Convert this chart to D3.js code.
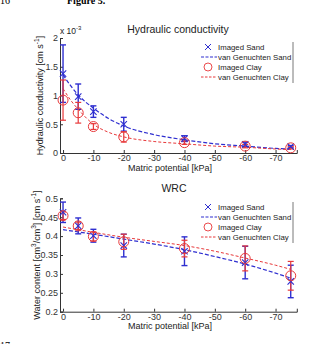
<!DOCTYPE html>
<html>
<head>
<meta charset="utf-8">
<script src="https://cdn.jsdelivr.net/npm/d3@7"></script>
<style>
  body { margin: 0; background: #fff; }
  svg { display: block; font-family: "Liberation Sans", Arial, sans-serif; }
</style>
</head>
<body>
<div id="chart"></div>
<script>
// measured points
const potentials = [0, -5, -10, -20, -40, -60, -75];

const sandK = [1.38, 0.98, 0.72, 0.50, 0.25, 0.15, 0.11];
const sandKErr = [0.50, 0.22, 0.10, 0.12, 0.05, 0.04, 0.02];
const clayK = [0.92, 0.70, 0.46, 0.28, 0.18, 0.12, 0.09];
const clayKErr = [0.35, 0.18, 0.05, 0.09, 0.03, 0.03, 0.02];

const sandW = [0.463, 0.427, 0.401, 0.375, 0.360, 0.330, 0.280];
const sandWErr = [0.027, 0.021, 0.017, 0.030, 0.038, 0.043, 0.043];
const clayW = [0.454, 0.427, 0.399, 0.385, 0.367, 0.341, 0.295];
const clayWErr = [0.010, 0.010, 0.012, 0.020, 0.022, 0.033, 0.038];

// van Genuchten fits
const fitPotK = [0, -2.5, -5, -10, -15, -20, -30, -40, -50, -60, -70, -75];
const fitSandK = [1.36, 1.17, 1.01, 0.78, 0.60, 0.47, 0.32, 0.23, 0.16, 0.12, 0.08, 0.07];
const fitClayK = [1.12, 0.92, 0.76, 0.50, 0.36, 0.28, 0.20, 0.16, 0.12, 0.10, 0.07, 0.06];

const fitPotW = [0, -10, -20, -30, -40, -50, -60, -70, -75];
const fitSandW = [0.417, 0.405, 0.392, 0.379, 0.364, 0.346, 0.326, 0.302, 0.289];
const fitClayW = [0.424, 0.410, 0.397, 0.386, 0.375, 0.360, 0.342, 0.323, 0.312];

const xTicks = [0, -10, -20, -30, -40, -50, -60, -70];
const kTicks = [0, 0.5, 1, 1.5, 2];
const wTicks = [0.2, 0.25, 0.3, 0.35, 0.4, 0.45, 0.5];

const legendLabels = ["Imaged Sand", "van Genuchten Sand", "Imaged Clay", "van Genuchten Clay"];

const BLUE = "#2f2fd0";
const RED = "#e8383a";

const width = 309, height = 344;
const svg = d3.select("#chart").append("svg")
  .attr("width", width)
  .attr("height", height);

// page bits around the figure (cut at the edges, as in the scan)
svg.append("text").attr("x", 0).attr("y", 4)
  .attr("font-family", "Liberation Serif, serif").attr("font-size", 10).text("16");
svg.append("text").attr("x", 67).attr("y", 4)
  .attr("font-family", "Liberation Serif, serif").attr("font-size", 10).attr("font-weight", "bold").text("Figure 5.");

const x = d3.scaleLinear().domain([1, -77]).range([60, 296.8]);

function panel(opts) {
  const { y, ticks, tickFmt, title, titleX, titleY, ylabel, ylabelX, legendY,
          sand, sandErr, clay, clayErr, fitX, fitSand, fitClay, xlabelY } = opts;
  const g = svg.append("g");
  const [y0, y1] = y.range();

  // axes, ticks pointing inwards
  const xAxis = g.append("g")
    .attr("transform", `translate(0,${y0})`)
    .call(d3.axisBottom(x).tickValues(xTicks).tickSize(-3).tickPadding(2)
      .tickFormat(d => String(d)));
  const yAxis = g.append("g")
    .attr("transform", `translate(${x.range()[0]},0)`)
    .call(d3.axisLeft(y).tickValues(ticks).tickSize(-3).tickPadding(2).tickFormat(tickFmt));
  [xAxis, yAxis].forEach(a => {
    a.select(".domain").attr("stroke", "#333");
    a.selectAll(".tick line").attr("stroke", "#333");
    a.selectAll("text").attr("font-size", 9).attr("fill", "#333")
      .attr("font-family", "Liberation Sans, Arial, sans-serif");
  });

  g.append("text").attr("x", titleX).attr("y", titleY)
    .attr("text-anchor", "middle").attr("font-size", 10.5).attr("fill", "#222").text(title);

  g.append("text").attr("x", 170).attr("y", xlabelY)
    .attr("text-anchor", "middle").attr("font-size", 9).attr("fill", "#222")
    .text("Matric potential [kPa]");

  const yl = g.append("text")
    .attr("transform", `translate(${ylabelX},${(y0 + y1) / 2}) rotate(-90)`)
    .attr("text-anchor", "middle").attr("font-size", 9).attr("fill", "#222");
  ylabel(yl);

  // fits
  const line = (vals) => d3.line()
    .x((d, i) => x(fitX[i])).y(d => y(d))
    .curve(d3.curveMonotoneX)(vals);
  g.append("path").attr("d", line(fitSand)).attr("fill", "none")
    .attr("stroke", BLUE).attr("stroke-width", 1.2).attr("stroke-dasharray", "4,2");
  g.append("path").attr("d", line(fitClay)).attr("fill", "none")
    .attr("stroke", RED).attr("stroke-width", 1).attr("stroke-dasharray", "3,2");

  // error bars
  function errBars(vals, errs, color, w) {
    const eg = g.append("g").attr("stroke", color).attr("stroke-width", w);
    potentials.forEach((p, i) => {
      const cx = x(p);
      const top = y(vals[i] + errs[i]), bot = y(vals[i] - errs[i]);
      eg.append("line").attr("x1", cx).attr("x2", cx).attr("y1", top).attr("y2", bot);
      eg.append("line").attr("x1", cx - 3).attr("x2", cx + 3).attr("y1", top).attr("y2", top);
      eg.append("line").attr("x1", cx - 3).attr("x2", cx + 3).attr("y1", bot).attr("y2", bot);
    });
  }
  errBars(sand, sandErr, BLUE, 1.4);
  errBars(clay, clayErr, RED, 1.2);

  // markers
  g.append("g").selectAll("path.x").data(sand).enter().append("path")
    .attr("d", (d, i) => {
      const cx = x(potentials[i]), cy = y(d), r = 3.2;
      return `M${cx - r},${cy - r}L${cx + r},${cy + r}M${cx - r},${cy + r}L${cx + r},${cy - r}`;
    })
    .attr("stroke", BLUE).attr("stroke-width", 1.1).attr("fill", "none");
  g.append("g").selectAll("circle").data(clay).enter().append("circle")
    .attr("cx", (d, i) => x(potentials[i])).attr("cy", d => y(d)).attr("r", 5)
    .attr("fill", "none").attr("stroke", RED).attr("stroke-width", 1);

  // legend
  const lg = g.append("g").attr("transform", `translate(0,${legendY})`);
  lg.append("line").attr("x1", 293).attr("x2", 293).attr("y1", -5).attr("y2", 36)
    .attr("stroke", "#555").attr("stroke-width", 0.8);
  legendLabels.forEach((lab, i) => {
    const ly = i * 10;
    if (i === 0) {
      lg.append("path").attr("d", `M205,${ly - 3}L211,${ly + 3}M205,${ly + 3}L211,${ly - 3}`)
        .attr("stroke", BLUE).attr("stroke-width", 1);
    } else if (i === 2) {
      lg.append("circle").attr("cx", 208).attr("cy", ly).attr("r", 4)
        .attr("fill", "none").attr("stroke", RED).attr("stroke-width", 0.9);
    } else {
      lg.append("line").attr("x1", 201).attr("x2", 217).attr("y1", ly).attr("y2", ly)
        .attr("stroke", i === 1 ? BLUE : RED).attr("stroke-width", i === 1 ? 1.2 : 1)
        .attr("stroke-dasharray", i === 1 ? "3,1.5" : "2.5,1.5");
    }
    lg.append("text").attr("x", 218).attr("y", ly).attr("dy", "0.35em")
      .attr("font-size", 7.8).attr("fill", "#222").text(lab);
  });
  return g;
}

// hydraulic conductivity panel
const yK = d3.scaleLinear().domain([0, 2]).range([153, 38]);
const gK = panel({
  y: yK, ticks: kTicks, tickFmt: d => String(d),
  title: "Hydraulic conductivity", titleX: 178, titleY: 33,
  ylabelX: 43,
  ylabel: t => {
    t.append("tspan").text("Hydraulic conductivity [cm s");
    t.append("tspan").attr("dy", -4).attr("font-size", 6.5).text("-1");
    t.append("tspan").attr("dy", 4).text("]");
  },
  legendY: 47,
  sand: sandK, sandErr: sandKErr, clay: clayK, clayErr: clayKErr,
  fitX: fitPotK, fitSand: fitSandK, fitClay: fitClayK, xlabelY: 171
});
const exp = gK.append("text").attr("x", 60).attr("y", 34).attr("font-size", 8.5).attr("fill", "#222");
exp.append("tspan").text("x 10");
exp.append("tspan").attr("dy", -4).attr("font-size", 6).text("-3");

// water retention panel
const yW = d3.scaleLinear().domain([0.2, 0.5]).range([311.7, 198.3]);
panel({
  y: yW, ticks: wTicks, tickFmt: d => String(+d.toFixed(2)),
  title: "WRC", titleX: 174, titleY: 192,
  ylabelX: 40,
  ylabel: t => {
    t.append("tspan").text("Water content [cm");
    t.append("tspan").attr("dy", -4).attr("font-size", 6.5).text("3");
    t.append("tspan").attr("dy", 4).text("/cm");
    t.append("tspan").attr("dy", -4).attr("font-size", 6.5).text("3");
    t.append("tspan").attr("dy", 4).text("] [cm s");
    t.append("tspan").attr("dy", -4).attr("font-size", 6.5).text("-1");
    t.append("tspan").attr("dy", 4).text("]");
  },
  legendY: 207,
  sand: sandW, sandErr: sandWErr, clay: clayW, clayErr: clayWErr,
  fitX: fitPotW, fitSand: fitSandW, fitClay: fitClayW, xlabelY: 329
});

svg.append("text").attr("x", 0).attr("y", 349)
  .attr("font-family", "Liberation Serif, serif").attr("font-size", 10).text("17");
</script>
</body>
</html>
